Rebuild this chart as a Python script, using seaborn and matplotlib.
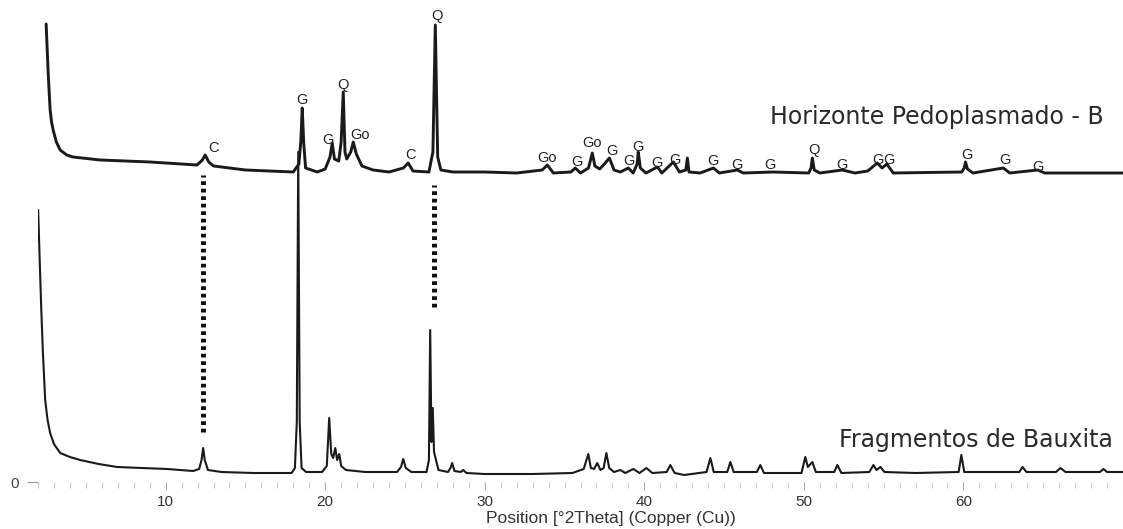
import numpy as np
import pandas as pd
import matplotlib
matplotlib.use("Agg")
import matplotlib.pyplot as plt
import seaborn as sns
from matplotlib.ticker import MultipleLocator, FixedLocator

# ---------------- data ----------------
# Fragmentos de Bauxita (lower pattern)
two_theta_bauxita = [
    2.01, 2.10, 2.20, 2.30, 2.45, 2.60, 2.76, 3.00, 3.39, 4.00, 4.64, 5.80, 6.96, 8.50,
    10.10, 11.72, 12.10, 12.25, 12.35, 12.45, 12.65, 13.50, 15.50, 17.90, 18.10, 18.22,
    18.31, 18.40, 18.52, 18.80, 19.80, 20.10, 20.25, 20.38, 20.50, 20.63, 20.75, 20.88,
    21.00, 21.30, 22.50, 24.50, 24.75, 24.89, 25.05, 25.40, 26.35, 26.50, 26.58, 26.66,
    26.74, 26.82, 26.96, 27.10, 27.70, 27.85, 27.96, 28.10, 28.50, 28.65, 28.85, 30.00,
    33.00, 35.50, 36.20, 36.49, 36.65, 36.85, 37.05, 37.25, 37.45, 37.62, 37.80, 38.10,
    38.50, 38.80, 39.31, 39.70, 40.13, 40.50, 41.40, 41.63, 41.90, 42.50, 43.90, 44.14,
    44.35, 45.20, 45.39, 45.60, 47.05, 47.27, 47.50, 49.85, 50.09, 50.25, 50.53, 50.75,
    51.90, 52.10, 52.35, 54.10, 54.36, 54.55, 54.80, 55.05, 57.00, 59.70, 59.87, 60.05,
    63.50, 63.70, 63.95, 65.80, 66.08, 66.40, 68.55, 68.78, 69.00, 70.00]
counts_bauxita = [
    272, 225, 175, 132, 82, 62, 49, 38, 29, 25, 22, 18, 15, 14,
    13, 11, 13, 22, 34, 22, 12, 10, 9, 9, 14, 60,
    330, 60, 14, 10, 10, 16, 64, 28, 24, 34, 22, 28,
    16, 12, 10, 10, 15, 23, 14, 10, 10, 22, 152, 40,
    74, 30, 21, 12, 10, 14, 19, 11, 10, 12, 9, 8,
    8, 9, 13, 28, 14, 13, 19, 12, 14, 29, 14, 10,
    12, 9, 13, 9, 14, 9, 10, 17, 9, 7, 10, 24,
    10, 10, 20, 10, 10, 17, 9, 9, 25, 15, 20, 10,
    10, 17, 9, 10, 17, 12, 15, 10, 9, 10, 27, 10,
    10, 15, 10, 10, 14, 10, 10, 13, 10, 10]

# Horizonte Pedoplasmado - B (upper pattern, shown stacked)
two_theta_horizonte = [
    2.51, 2.57, 2.63, 2.70, 2.76, 2.85, 2.95, 3.15, 3.39, 3.80, 4.20, 5.89, 9.03, 11.97,
    12.30, 12.48, 12.70, 13.00, 15.00, 18.00, 18.35, 18.47, 18.56, 18.65, 18.77, 19.50,
    20.00, 20.30, 20.44, 20.58, 20.85, 21.00, 21.13, 21.24, 21.35, 21.60, 21.76, 21.95,
    22.30, 23.00, 24.00, 24.90, 25.20, 25.50, 26.50, 26.75, 26.90, 27.05, 27.25, 28.00,
    30.00, 32.00, 33.60, 33.92, 34.30, 35.40, 35.67, 36.00, 36.50, 36.74, 36.90, 37.20,
    37.50, 37.81, 38.10, 38.50, 39.00, 39.30, 39.55, 39.62, 39.75, 40.10, 40.82, 41.10,
    41.82, 42.20, 42.60, 42.70, 42.80, 43.50, 44.33, 44.70, 45.83, 46.20, 48.03, 50.30,
    50.45, 50.53, 50.65, 51.00, 52.41, 53.20, 54.00, 54.60, 54.90, 55.20, 55.60, 59.90,
    60.05, 60.13, 60.25, 60.60, 62.50, 62.90, 64.64, 65.10, 70.00]
counts_horizonte = [
    458, 435, 412, 390, 372, 360, 352, 340, 332, 327, 325, 322, 320, 317,
    322, 327, 320, 316, 312, 310, 318, 340, 374, 340, 314, 310,
    313, 325, 339, 323, 321, 340, 390, 330, 323, 330, 340, 328,
    316, 312, 310, 314, 319, 311, 310, 330, 457, 325, 312, 310,
    310, 309, 312, 317, 309, 310, 314, 309, 314, 329, 316, 313,
    318, 324, 312, 310, 314, 309, 318, 330, 314, 309, 315, 309,
    320, 310, 312, 324, 310, 309, 314, 309, 312, 309, 310, 309,
    314, 324, 312, 309, 312, 309, 311, 319, 314, 318, 309, 310,
    314, 320, 313, 309, 314, 309, 312, 309, 309]

# phase identification labels on the upper pattern
phase_labels = ["C", "G", "G", "Q", "Go", "C", "Q", "Go", "G", "Go", "G", "G", "G",
                "G", "G", "G", "G", "G", "Q", "G", "G", "G", "G", "G", "G"]
phase_2theta = [12.98, 18.56, 20.19, 21.13, 22.19, 25.33, 27.02, 33.92, 35.80, 36.74,
                37.99, 39.06, 39.62, 40.82, 41.94, 44.33, 45.83, 47.90, 50.60, 52.41,
                54.67, 55.36, 60.19, 62.57, 64.70]
phase_level = [334, 382, 342, 397, 347, 327, 466, 324, 320, 339,
               331, 321, 335, 319, 322, 321, 317, 317, 332, 317,
               322, 322, 327, 322, 315]

# dotted guide lines linking the two patterns
guide_2theta = [12.35, 26.83]
guide_low = [50, 175]
guide_high = [307, 297]

tick_values = [10, 20, 30, 40, 50, 60]
x_label = "Position [°2Theta] (Copper (Cu))"
name_top = "Horizonte Pedoplasmado - B"
name_bottom = "Fragmentos de Bauxita"

# ---------------- figure ----------------
sns.set_theme(style="white")
plt.rcParams["font.family"] = ["Liberation Sans", "DejaVu Sans"]

W, H = 1123, 529
fig = plt.figure(figsize=(W / 100, H / 100), dpi=100)
ax = fig.add_axes([38 / W, 47 / H, 1085 / W, 482 / H])

df_b = pd.DataFrame({"two_theta": two_theta_bauxita, "counts": counts_bauxita})
df_t = pd.DataFrame({"two_theta": two_theta_horizonte, "counts": counts_horizonte})

sns.lineplot(data=df_b, x="two_theta", y="counts", ax=ax, color="#1a1a1a",
             linewidth=1.5, sort=False, estimator=None)
sns.lineplot(data=df_t, x="two_theta", y="counts", ax=ax, color="#1a1a1a",
             linewidth=2.1, sort=False, estimator=None)

for gx, lo, hi in zip(guide_2theta, guide_low, guide_high):
    ax.plot([gx, gx], [lo, hi], color="#111111", linewidth=3.6,
            linestyle=(0, (0.75, 0.75)), dash_capstyle="butt", solid_capstyle="butt")

for lab, px, py in zip(phase_labels, phase_2theta, phase_level):
    ax.text(px, py, lab, ha="center", va="center", fontsize=10.5, color="#222222")

ax.text(68.78, 365, name_top, ha="right", va="center", fontsize=17,
        color="#2a2a2a", family=["DejaVu Sans"])
ax.text(69.35, 42, name_bottom, ha="right", va="center", fontsize=17,
        color="#2a2a2a", family=["DejaVu Sans"])

ax.set_xlim(2.0, 70.0)
ax.set_ylim(0, 482)
for s in ax.spines.values():
    s.set_visible(False)

ax.xaxis.set_major_locator(FixedLocator(tick_values))
ax.xaxis.set_minor_locator(MultipleLocator(1))
ax.set_xticklabels([str(v) for v in tick_values])
ax.tick_params(axis="x", which="major", direction="out", length=6, width=0.8,
               color="#aaaaaa", labelsize=11, labelcolor="#333333", pad=3, bottom=True)
ax.tick_params(axis="x", which="minor", direction="out", length=4, width=0.8,
               color="#cccccc", bottom=True)
ax.set_yticks([0])
ax.set_yticklabels(["0"])
ax.tick_params(axis="y", which="major", direction="out", length=8, width=0.8,
               color="#999999", labelsize=11, labelcolor="#444444", pad=6, left=True)
ax.set_xlabel(x_label, fontsize=12.5, color="#333333")
ax.xaxis.label.set_va("center")
ax.xaxis.set_label_coords((611 - 38) / 1085, -(518 - 482) / 482)
ax.set_ylabel("")
ax.grid(False)

fig.savefig("out.png", dpi=100, facecolor="white")
